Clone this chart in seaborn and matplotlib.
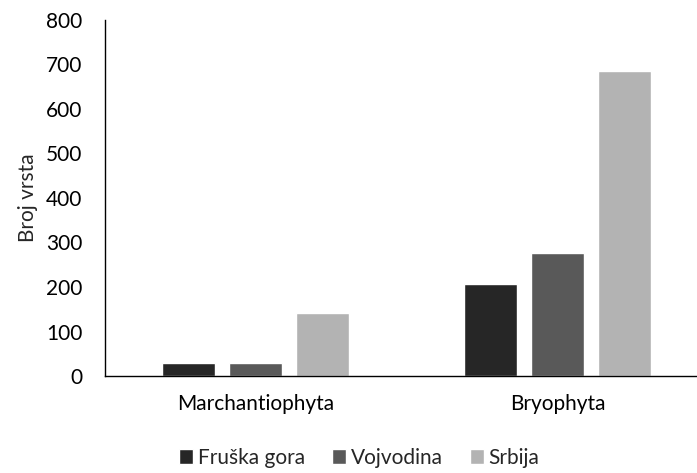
import matplotlib
matplotlib.use('Agg')
import matplotlib.pyplot as plt
import pandas as pd
import seaborn as sns

groups = ['Marchantiophyta', 'Bryophyta']
regions = ['Fruška gora', 'Vojvodina', 'Srbija']
fruska_gora = [29, 206]
vojvodina = [30, 276]
srbija = [142, 685]
colors = ['#262626', '#595959', '#b3b3b3']

df = pd.DataFrame({
    'grupa': groups * 3,
    'region': [r for r in regions for _ in groups],
    'broj': fruska_gora + vojvodina + srbija,
})

sns.set_style('white')
plt.rcParams['font.family'] = ['Lato', 'DejaVu Sans']

fig = plt.figure(figsize=(6.97, 4.73), dpi=100)
ax = fig.add_axes([0.15, 0.205, 0.8665, 0.753])
sns.barplot(data=df, x='grupa', y='broj', hue='region', palette=colors,
            width=0.666, gap=0.21, saturation=1, ax=ax)

ax.set_xlim(-0.5, 1.5)
ax.set_ylim(0, 800)
ax.set_yticks(range(0, 801, 100))
ax.tick_params(axis='both', length=0, labelsize=15, colors='black')
ax.tick_params(axis='x', pad=13)
ax.tick_params(axis='y', pad=16)
ax.set_xlabel('')
ax.set_ylabel('Broj vrsta', fontsize=15, labelpad=6)
for side in ['top', 'right']:
    ax.spines[side].set_visible(False)
for side in ['left', 'bottom']:
    ax.spines[side].set_color('black')
    ax.spines[side].set_linewidth(1.0)

ax.legend(loc='center', bbox_to_anchor=(359 / 697, 15 / 473),
          bbox_transform=fig.transFigure, ncol=3, frameon=False,
          fontsize=15, handlelength=0.7, handleheight=0.7,
          handletextpad=0.2, columnspacing=1.3, title=None)

fig.savefig('out.png', dpi=100)
